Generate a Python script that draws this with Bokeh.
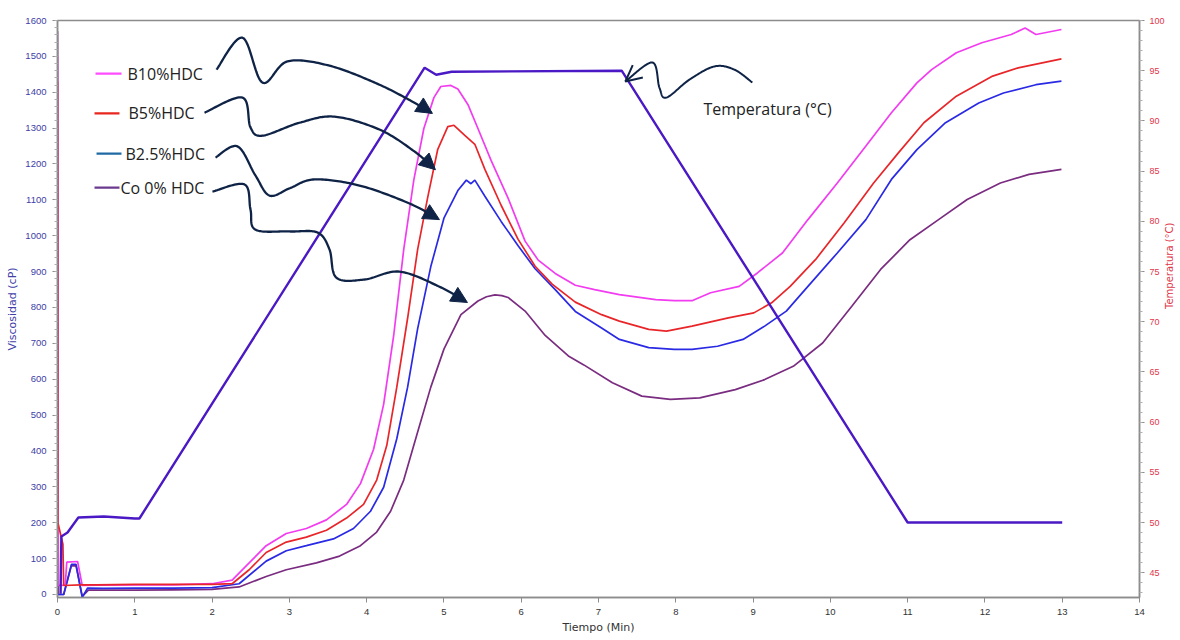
import numpy as np
from bokeh.plotting import figure
from bokeh.models import (Range1d, LinearAxis, SingleIntervalTicker, Label,
                          Arrow, NormalHead, OpenHead)
from bokeh.embed import file_html
from bokeh.resources import INLINE

# ---------------- data ----------------
# B10%HDC (magenta), viscosity in cP
t_b10 = [0, 0.01, 0.1, 0.12, 0.26, 0.32, 0.5, 1.0, 1.5, 2.0, 2.26, 2.48, 2.70, 2.96, 3.22,
         3.48, 3.74, 3.92, 4.09, 4.22, 4.35, 4.48, 4.61, 4.74, 4.87, 4.96, 5.09, 5.18, 5.31,
         5.44, 5.61, 5.83, 6.05, 6.22, 6.44, 6.70, 6.95, 7.27, 7.74, 7.98, 8.21, 8.45, 8.82,
         9.06, 9.38, 9.71, 10.09, 10.46, 10.79, 11.12, 11.31, 11.63, 11.96, 12.34, 12.52,
         12.66, 12.99]
v_b10 = [1500, 25, 26, 90, 92, 25, 26, 27, 27, 30, 40, 88, 136, 170, 184,
         208, 251, 309, 405, 530, 722, 962, 1155, 1299, 1385, 1416, 1419, 1409, 1366,
         1299, 1210, 1105, 985, 932, 895, 862, 850, 836, 822, 819, 819, 841, 859,
         897, 952, 1045, 1147, 1250, 1343, 1426, 1463, 1510, 1538, 1561, 1579,
         1561, 1575]

# B5%HDC (red)
t_b5 = [0, 0.005, 0.07, 0.08, 0.3, 0.5, 1.0, 1.5, 2.0, 2.26, 2.48, 2.70, 2.96, 3.22, 3.48,
        3.74, 3.96, 4.13, 4.26, 4.39, 4.53, 4.66, 4.79, 4.92, 5.05, 5.13, 5.27, 5.40, 5.53,
        5.74, 5.96, 6.18, 6.40, 6.70, 7.04, 7.27, 7.65, 7.88, 8.21, 8.68, 9.01, 9.24, 9.48,
        9.81, 10.18, 10.56, 10.88, 11.21, 11.63, 12.10, 12.43, 12.99]
v_b5 = [1430, 200, 140, 25, 27, 27, 28, 28, 28, 30, 69, 117, 146, 160, 179,
        213, 251, 319, 415, 578, 770, 962, 1107, 1241, 1304, 1308, 1280, 1255, 1185,
        1085, 990, 915, 865, 815, 780, 762, 739, 734, 748, 771, 785, 813, 859,
        934, 1036, 1147, 1231, 1315, 1389, 1445, 1468, 1493]

# B2.5%HDC (blue)
t_b25 = [0, 0.08, 0.18, 0.24, 0.32, 0.39, 0.6, 1.0, 1.5, 2.0, 2.35, 2.70, 2.96, 3.22, 3.57,
         3.83, 4.05, 4.22, 4.39, 4.53, 4.66, 4.83, 5.0, 5.18, 5.29, 5.35, 5.40, 5.53, 5.74,
         5.96, 6.18, 6.44, 6.70, 7.04, 7.27, 7.65, 7.98, 8.21, 8.54, 8.87, 9.15, 9.43, 9.71,
         10.09, 10.46, 10.79, 11.12, 11.49, 11.92, 12.24, 12.66, 12.99]
v_b25 = [0, 0, 84, 84, -8, 18, 17, 18, 18, 19, 30, 93, 122, 136, 155,
         184, 232, 299, 434, 578, 741, 914, 1049, 1126, 1155, 1145, 1155, 1110, 1040,
         972, 908, 850, 789, 743, 711, 688, 683, 683, 692, 711, 748, 790, 859,
         952, 1045, 1157, 1240, 1315, 1370, 1398, 1421, 1431]

# Co 0% HDC (purple)
t_co = [0, 0.01, 0.08, 0.18, 0.24, 0.32, 0.4, 1.0, 1.5, 2.0, 2.35, 2.70, 2.96, 3.35, 3.65,
        3.92, 4.13, 4.31, 4.48, 4.66, 4.83, 5.0, 5.22, 5.44, 5.55, 5.66, 5.75, 5.83, 6.05,
        6.31, 6.61, 6.81, 7.18, 7.56, 7.93, 8.31, 8.77, 9.15, 9.52, 9.90, 10.28, 10.65,
        11.03, 11.40, 11.77, 12.20, 12.57, 12.99]
v_co = [1570, 0, 0, 80, 80, -5, 12, 12, 13, 14, 21, 50, 69, 88, 107,
        136, 174, 232, 319, 453, 578, 684, 780, 818, 830, 835, 833, 828, 790,
        722, 665, 640, 590, 553, 544, 548, 571, 599, 636, 701, 804, 906,
        989, 1045, 1101, 1147, 1171, 1185]

# Temperature profile (°C)
t_temp = [0.04, 0.05, 0.13, 0.27, 0.6, 1.0, 1.06, 4.75, 4.9, 5.1, 7.3, 11.0, 13.0]
v_temp = [42.9, 48.6, 49.0, 50.5, 50.6, 50.4, 50.4, 95.3, 94.6, 94.9, 95.0, 50.0, 50.0]

series_names = ["B10%HDC", "B5%HDC", "B2.5%HDC", "Co 0% HDC"]
x_ticks_interval = 1
visc_ticks_interval = 100
temp_ticks_interval = 5

# ---------------- styling ----------------
C_MAG = "#F23CF0"
C_RED = "#E8262A"
C_BLUE = "#2A2AE4"
C_PUR = "#7A2C80"
C_TEMP = "#4A18C4"
LEG_COLORS = ["#FF4CFF", "#E8261E", "#1F6AA5", "#6A3A8E"]
NAVY = "#0F2347"
TXT = "#222222"

p = figure(frame_width=1082, frame_height=577, output_backend="svg", toolbar_location=None,
           x_range=Range1d(0, 14), y_range=Range1d(-8.4, 1600),
           min_border_left=57, min_border_right=5, min_border_top=20,
           min_border_bottom=5)
p.extra_y_ranges = {"temp": Range1d(42.53, 100)}
p.xgrid.visible = False
p.ygrid.visible = False
p.outline_line_color = "#8C8C8C"
p.outline_line_width = 1.5
p.background_fill_color = "white"
p.border_fill_color = "white"

# axes
xa = p.xaxis[0]
xa.ticker = SingleIntervalTicker(interval=x_ticks_interval, num_minor_ticks=0)
xa.axis_label = "Tiempo (Min)"
ya = p.yaxis[0]
ya.ticker = SingleIntervalTicker(interval=visc_ticks_interval, num_minor_ticks=5)
ya.axis_label = "Viscosidad (cP)"
ra = LinearAxis(y_range_name="temp",
                ticker=SingleIntervalTicker(interval=temp_ticks_interval, num_minor_ticks=5),
                axis_label="Temperatura (°C)")
p.add_layout(ra, "right")

for ax, col in [(xa, "#333333"), (ya, "#4040A8"), (ra, "#E0364A")]:
    ax.axis_line_color = "#8C8C8C"
    ax.axis_line_width = 1.5
    ax.major_tick_line_color = "#8C8C8C"
    ax.minor_tick_line_color = "#B0B0B0"
    ax.major_tick_out = 5
    ax.major_tick_in = 0
    ax.minor_tick_out = 3
    ax.minor_tick_in = 0
    ax.major_label_text_font = "Liberation Sans"
    ax.major_label_text_font_size = "9.5px"
    ax.major_label_text_color = col
    ax.axis_label_text_font = "DejaVu Sans"
    ax.axis_label_text_font_size = "11px"
    ax.axis_label_text_font_style = "normal"
    ax.axis_label_text_color = col
    ax.major_label_standoff = 6
    ax.axis_label_standoff = 3
xa.axis_label_text_color = "#333333"
ra.major_label_text_font_size = "9px"
ra.major_label_standoff = 5
ra.axis_label_text_font_size = "10px"
ra.axis_label_standoff = 2
if "axis_label_orientation" in ra.properties():
    ra.axis_label_orientation = np.pi / 2

# curves
p.line(t_co, v_co, color=C_PUR, line_width=1.7)
p.line(t_b25, v_b25, color=C_BLUE, line_width=1.7)
p.line(t_b10, v_b10, color=C_MAG, line_width=1.7)
p.line(t_b5, v_b5, color=C_RED, line_width=1.7)
p.line(t_temp, v_temp, color=C_TEMP, line_width=2.4, y_range_name="temp")


# ---------------- hand-drawn annotations ----------------
def smooth(xs, ys, n=24):
    pts = np.column_stack([xs, ys]).astype(float)
    P = np.vstack([pts[0], pts, pts[-1]])
    out = []
    t = np.linspace(0, 1, n, endpoint=False)[:, None]
    for i in range(1, len(P) - 2):
        p0, p1, p2, p3 = P[i - 1], P[i], P[i + 1], P[i + 2]
        seg = 0.5 * ((2 * p1) + (-p0 + p2) * t + (2 * p0 - 5 * p1 + 4 * p2 - p3) * t ** 2
                     + (-p0 + 3 * p1 - 3 * p2 + p3) * t ** 3)
        out.append(seg)
    out.append(pts[-1][None, :])
    a = np.vstack(out)
    return a[:, 0], a[:, 1]


arrow_paths = [
    ([2.057, 2.393, 2.652, 2.975, 3.519, 4.166, 4.683, 4.851],
     [1463, 1552, 1427, 1486, 1474, 1421, 1363, 1341]),
    ([1.902, 2.393, 2.497, 2.652, 3.131, 3.583, 4.166, 4.618, 4.890],
     [1343, 1385, 1302, 1279, 1315, 1332, 1296, 1235, 1184]),
    ([2.044, 2.329, 2.561, 2.743, 3.001, 3.325, 3.907, 4.554, 4.942],
     [1218, 1249, 1168, 1112, 1132, 1157, 1140, 1090, 1045]),
    ([2.005, 2.419, 2.497, 2.561, 3.001, 3.364, 3.519, 3.609, 3.972, 4.424, 4.942, 5.304],
     [1123, 1143, 1073, 1017, 1012, 1009, 962, 883, 878, 900, 858, 814]),
]
for xs, ys in arrow_paths:
    sx, sy = smooth(xs, ys)
    p.line(sx[:-3], sy[:-3], color=NAVY, line_width=2.3)
    p.add_layout(Arrow(end=NormalHead(size=16, fill_color=NAVY, line_color=NAVY),
                       x_start=sx[-6], y_start=sy[-6], x_end=sx[-1], y_end=sy[-1],
                       line_color=NAVY, line_width=2.3))

# temperature arrow (open head)
tx, ty = smooth([8.991, 8.758, 8.500, 8.176, 7.878, 7.788, 7.697, 7.348],
                [1427, 1463, 1472, 1435, 1385, 1413, 1483, 1430])
p.line(tx, ty, color=NAVY, line_width=2.0)
p.add_layout(Arrow(end=OpenHead(size=16, line_color=NAVY, line_width=2.0),
                   x_start=tx[-5], y_start=ty[-5], x_end=tx[-1], y_end=ty[-1],
                   line_color=NAVY, line_width=0, line_alpha=0))

# legend-like labels
leg_y = [1452, 1341, 1229, 1134]
leg_x_text = [0.906, 0.918, 0.880, 0.815]
leg_x0 = [0.492, 0.479, 0.505, 0.479]
leg_x1 = [0.828, 0.802, 0.828, 0.802]
for name, col, yv, xt, x0, x1 in zip(series_names, LEG_COLORS, leg_y, leg_x_text, leg_x0, leg_x1):
    p.line([x0, x1], [yv, yv], color=col, line_width=2.2)
    p.add_layout(Label(x=xt, y=yv, text=name, text_font="Open Sans",
                       text_font_size="16px", text_color=TXT, text_baseline="middle"))

p.add_layout(Label(x=8.357, y=1352, text="Temperatura (°C)", text_font="Open Sans",
                   text_font_size="16px", text_color=TXT, text_baseline="middle"))

open("out.html", "w").write(file_html(p, INLINE))
